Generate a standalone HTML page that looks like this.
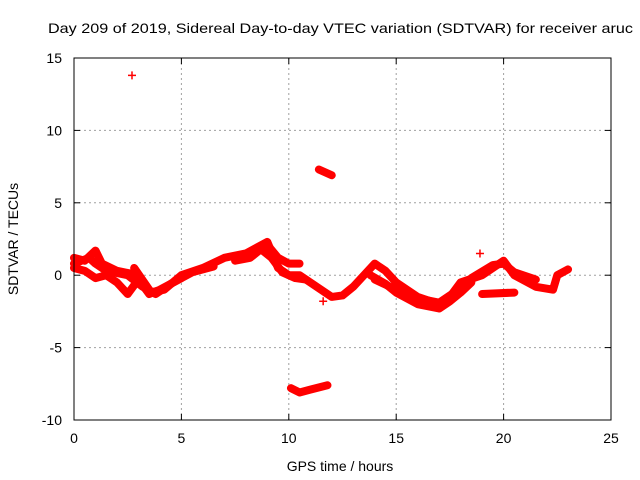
<!DOCTYPE html>
<html><head><meta charset="utf-8"><style>
body{margin:0;background:#fff}
svg{display:block;font-family:"Liberation Sans",sans-serif;font-size:14px}
</style></head><body>
<svg id="chart" width="640" height="480">
<text x="48" y="33" font-size="14" textLength="585" lengthAdjust="spacingAndGlyphs">Day 209 of 2019, Sidereal Day-to-day VTEC variation (SDTVAR) for receiver aruc</text>
<g id="grid"></g>
<g id="marks"></g>
<rect x="74" y="58" width="537" height="362" fill="none" stroke="#000"/>
<g id="ticks"></g>
<text x="340" y="471" text-anchor="middle">GPS time / hours</text>
<text transform="translate(18,239) rotate(-90)" text-anchor="middle">SDTVAR / TECUs</text>
</svg>
<script>
const xTicks=[0,5,10,15,20,25];
const yTicks=[-10,-5,0,5,10,15];
const trackA_t=[0,0.5,1,1.3,2,3,3.5,4.2,5,6,7,8,9,9.5,10,10.5,11,11.5,12,12.5,13,13.5,14,14.5,15,16,17,17.5,18,19,19.5,20,20.5,21.5,22.3,22.5,23];
const trackA_v=[1.2,1.0,1.7,0.8,0.3,0,-1.2,-1.0,0,0.5,1.2,1.5,2.3,0.5,0,0,-0.5,-1.0,-1.5,-1.4,-0.8,0,0.8,0.3,-0.5,-1.5,-2.0,-1.5,-0.5,0,0.5,1.0,0,-0.8,-1.0,0,0.4];
const trackB_t=[0,0.5,1,1.5,2,2.5,3,3.5,4,5];
const trackB_v=[0.5,0.3,-0.2,0,-0.5,-1.3,-0.3,-1.3,-1.0,-0.2];
const trackH_t=[0,0.7,1,1.5,2.5,3.2,3.8,4.5,5.5,6.5];
const trackH_v=[0.8,1.2,0.8,0.3,0,-0.8,-1.3,-0.6,0.2,0.6];
const trackI_t=[2.8,3.5];
const trackI_v=[0.5,-1.0];
const trackC_t=[7.5,8.2,8.7,9.2,9.7,10.3,10.8];
const trackC_v=[1.0,1.2,1.8,1.2,0.2,-0.2,-0.3];
const trackJ_t=[8.5,9,9.5,10,10.5];
const trackJ_v=[1.6,2.1,1.2,0.8,0.8];
const trackD_t=[13.8,14.5,15,16,17,17.5,18,18.5];
const trackD_v=[0,-0.6,-1.2,-2.0,-2.3,-1.8,-1.2,-0.5];
const trackK_t=[14,15,16,17,18];
const trackK_v=[-0.3,-1.0,-1.6,-1.9,-0.9];
const trackL_t=[18.5,19.5,20,20.5,21.5];
const trackL_v=[-0.2,0.7,0.8,0.2,-0.3];
const trackE_t=[19,20.5];
const trackE_v=[-1.3,-1.2];
const trackF_t=[10.1,10.5,11,11.8];
const trackF_v=[-7.8,-8.1,-7.9,-7.6];
const trackG_t=[11.4,12];
const trackG_v=[7.3,6.9];
const pts_t=[2.7,11.6,18.9,21.5];
const pts_v=[13.8,-1.8,1.5,-0.7];
const X=t=>74+t*(537/25), Y=v=>275.2-v*14.48;
const NS="http://www.w3.org/2000/svg";
const grid=document.getElementById('grid'),ticks=document.getElementById('ticks'),marks=document.getElementById('marks');
function mk(tag,at,parent){const e=document.createElementNS(NS,tag);for(const k in at)e.setAttribute(k,at[k]);parent.appendChild(e);return e;}
xTicks.forEach(t=>{
 if(t>0&&t<25){const g=mk('line',{x1:X(t),x2:X(t),y1:58,y2:420,stroke:'#a0a0a0','stroke-dasharray':'2,3'},grid);
 
 }
 mk('line',{x1:X(t),x2:X(t),y1:420,y2:414,stroke:'#000'},ticks);
 mk('line',{x1:X(t),x2:X(t),y1:58,y2:64,stroke:'#000'},ticks);
 const l=mk('text',{x:X(t),y:443,'text-anchor':'middle'},ticks);l.textContent=t;
 
 
});
yTicks.forEach(v=>{
 if(v>-10&&v<15){const g=mk('line',{x1:74,x2:611,y1:Y(v),y2:Y(v),stroke:'#a0a0a0','stroke-dasharray':'2,3'},grid);
 
 }
 mk('line',{x1:74,x2:80,y1:Y(v),y2:Y(v),stroke:'#000'},ticks);
 mk('line',{x1:611,x2:605,y1:Y(v),y2:Y(v),stroke:'#000'},ticks);
 const l=mk('text',{x:62,y:Y(v)+5,'text-anchor':'end'},ticks);l.textContent=v;
 
 
});
function track(ts,vs,name){
 const p=mk('polyline',{points:ts.map((t,i)=>X(t)+','+Y(vs[i])).join(' '),fill:'none',stroke:'#ff0000','stroke-width':8,'stroke-linejoin':'round','stroke-linecap':'round'},marks);
 
 
}
track(trackA_t,trackA_v,'track-a');
track(trackB_t,trackB_v,'track-b');
track(trackH_t,trackH_v,'track-h');
track(trackI_t,trackI_v,'track-i');
track(trackC_t,trackC_v,'track-c');
track(trackJ_t,trackJ_v,'track-j');
track(trackD_t,trackD_v,'track-d');
track(trackK_t,trackK_v,'track-k');
track(trackL_t,trackL_v,'track-l');
track(trackE_t,trackE_v,'track-e');
track(trackF_t,trackF_v,'track-f');
track(trackG_t,trackG_v,'track-g');
pts_t.forEach((t,i)=>{
 const p=mk('path',{d:`M${X(t)-4},${Y(pts_v[i])}h8M${X(t)},${Y(pts_v[i])-4}v8`,stroke:'#ff0000','stroke-width':1.5},marks);
 
 
});
</script>
</body></html>
